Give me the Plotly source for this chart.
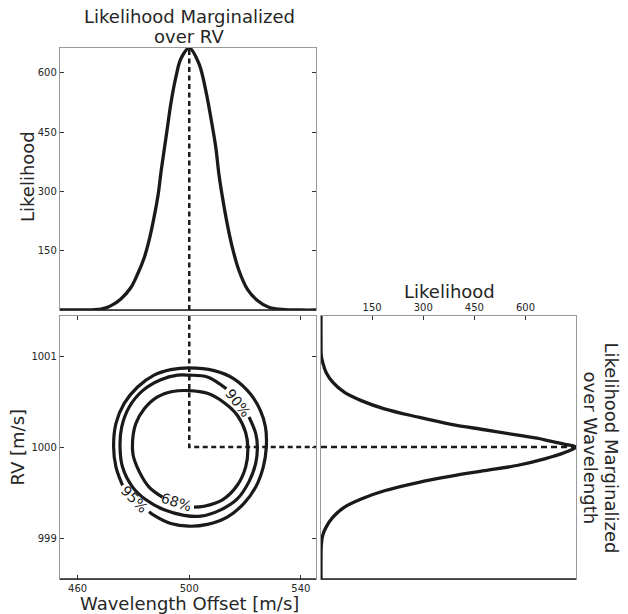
import plotly.graph_objects as go

W, H = 628, 614

# ---------------- data ----------------
# Likelihood marginalized over RV (function of wavelength offset)
wl_offset = [453.7, 460.0, 465.0, 468.4, 472.0, 475.5, 479.1, 481.5, 483.9, 485.6,
             487.4, 488.9, 489.8, 491.0, 492.2, 493.4, 495.2, 497.0, 500.0, 503.5,
             505.9, 507.7, 509.5, 510.6, 511.9, 513.6, 515.4, 517.8, 520.8, 524.4,
             528.5, 534.5, 540.0, 545.4]
lik_wl = [0, 0, 0.5, 2, 11, 28, 57, 91, 133, 176,
          235, 294, 345, 404, 463, 522, 589, 636, 663, 623,
          556, 488, 412, 345, 285, 218, 159, 100, 53, 24,
          7, 1, 0, 0]

# Likelihood marginalized over wavelength (function of RV)
rv = [998.55, 998.75, 998.93, 999.03, 999.12, 999.23, 999.34, 999.43, 999.52, 999.61,
      999.68, 999.74, 999.80, 999.87, 999.94, 1000.00, 1000.03, 1000.08, 1000.13, 1000.19,
      1000.25, 1000.33, 1000.42, 1000.51, 1000.60, 1000.71, 1000.82, 1000.93, 1001.00, 1001.20,
      1001.44]
lik_rv = [0, 0, 1, 5, 15, 35, 69, 118, 186, 284,
          382, 480, 578, 656, 715, 748, 715, 656, 578, 480,
          382, 284, 186, 118, 69, 35, 15, 5, 1, 0,
          0]

# Confidence contours (open arcs, broken where the labels sit)
c95_x = [485.6, 487.4, 493.4, 499.9, 506.5, 513.6, 519.6, 523.8, 526.5, 527.6, 527.3, 525.5,
         522.0, 516.0, 508.9, 499.9, 493.4, 487.4, 481.5, 476.7, 473.75, 472.9, 473.75, 476.1]
c95_y = [999.29, 999.25, 999.16, 999.13, 999.15, 999.23, 999.38, 999.56, 999.78, 1000.00, 1000.22, 1000.40,
         1000.58, 1000.75, 1000.84, 1000.87, 1000.85, 1000.79, 1000.66, 1000.48, 1000.26, 1000.00, 999.78, 999.58]

c90_x = [521.4, 523.8, 524.4, 523.8, 521.4, 517.2, 511.25, 504.1, 498.1, 491.0, 484.5,
         479.7, 476.1, 475.2, 475.8, 478.5, 483.3, 489.8, 495.8, 499.9, 506.5, 513.3]
c90_y = [1000.33, 1000.15, 1000.00, 999.82, 999.62, 999.43, 999.31, 999.24, 999.25, 999.31, 999.42,
         999.56, 999.78, 1000.00, 1000.22, 1000.44, 1000.62, 1000.74, 1000.79, 1000.79, 1000.77, 1000.64]

c68_x = [490.4, 485.6, 482.1, 479.9, 479.7, 480.9, 483.9, 488.6, 494.0, 499.9,
         506.5, 512.4, 517.2, 520.2, 521.0, 520.2, 517.2, 511.9, 505.3, 501.7]
c68_y = [999.45, 999.56, 999.73, 999.91, 1000.07, 1000.26, 1000.42, 1000.55, 1000.61, 1000.62,
         1000.59, 1000.49, 1000.35, 1000.16, 999.98, 999.78, 999.58, 999.42, 999.35, 999.34]

contour_labels = ["68%", "90%", "95%"]
label_x = [495.5, 517.4, 480.3]
label_y = [999.40, 1000.48, 999.43]
label_angle = [18, 52, 46]

lik_ticks = [150, 300, 450, 600]
wl_ticks = [460, 500, 540]
rv_ticks = [999, 1000, 1001]

# ---------------- layout helpers ----------------
def px_x(p):
    return p / W

def px_y(p):
    return 1 - p / H

WL_RANGE = [453.7, 545.4]
RV_RANGE = [998.55, 1001.44]

INK = "#1a1a1a"
GREY = "#999999"
FONT = "DejaVu Sans"

wl_peak = wl_offset[lik_wl.index(max(lik_wl))]
rv_peak = rv[lik_rv.index(max(lik_rv))]

fig = go.Figure()

# top marginal
fig.add_trace(go.Scatter(x=wl_offset, y=lik_wl, mode="lines", line=dict(color=INK, width=3.3, shape="spline"),
                         xaxis="x", yaxis="y", showlegend=False, hoverinfo="skip"))
fig.add_trace(go.Scatter(x=[wl_peak, wl_peak], y=[0, max(lik_wl)], mode="lines",
                         line=dict(color=INK, width=2.5, dash="5px,3.5px"),
                         xaxis="x", yaxis="y", showlegend=False, hoverinfo="skip"))

# contours
for cx, cy in [(c95_x, c95_y), (c90_x, c90_y), (c68_x, c68_y)]:
    fig.add_trace(go.Scatter(x=cx, y=cy, mode="lines", line=dict(color=INK, width=3.2, shape="spline"),
                             xaxis="x2", yaxis="y2", showlegend=False, hoverinfo="skip"))
fig.add_trace(go.Scatter(x=[wl_peak, wl_peak, WL_RANGE[1]], y=[RV_RANGE[1], rv_peak, rv_peak], mode="lines",
                         line=dict(color=INK, width=2.5, dash="5px,3.5px"),
                         xaxis="x2", yaxis="y2", showlegend=False, hoverinfo="skip"))

# right marginal
fig.add_trace(go.Scatter(x=lik_rv, y=rv, mode="lines", line=dict(color=INK, width=3.3, shape="spline"),
                         xaxis="x3", yaxis="y3", showlegend=False, hoverinfo="skip"))
fig.add_trace(go.Scatter(x=[0, max(lik_rv)], y=[rv_peak, rv_peak], mode="lines",
                         line=dict(color=INK, width=2.5, dash="6px,4px"),
                         xaxis="x3", yaxis="y3", showlegend=False, hoverinfo="skip"))

tickfont = dict(family=FONT, size=10, color="#262626")
common = dict(showgrid=False, zeroline=False, showline=True, linecolor=GREY, linewidth=1.3,
              tickcolor="#333333", ticklen=4, tickwidth=1, tickfont=tickfont)

dom_x_left = [px_x(60), px_x(316)]
dom_x_right = [px_x(321), px_x(576)]
dom_y_top = [px_y(310), px_y(48)]
dom_y_bot = [px_y(579), px_y(316)]

fig.update_layout(
    width=W, height=H, margin=dict(l=0, r=0, t=0, b=0),
    paper_bgcolor="white", plot_bgcolor="white",
    font=dict(family=FONT, color="#262626"),
    xaxis=dict(domain=dom_x_left, range=WL_RANGE, anchor="y", mirror=True, ticks="",
               showticklabels=False, **common),
    yaxis=dict(domain=dom_y_top, range=[0, max(lik_wl)], anchor="x", mirror="ticks", ticks="inside",
               tickvals=lik_ticks, **common),
    xaxis2=dict(domain=dom_x_left, range=WL_RANGE, anchor="y2", mirror="ticks", ticks="inside",
                tickvals=wl_ticks, **common),
    yaxis2=dict(domain=dom_y_bot, range=RV_RANGE, anchor="x2", mirror="ticks", ticks="inside",
                tickvals=rv_ticks, **common),
    xaxis3=dict(domain=dom_x_right, range=[0, max(lik_rv)], anchor="y3", side="top", mirror=True,
                ticks="inside", tickvals=lik_ticks, **common),
    yaxis3=dict(domain=dom_y_bot, range=RV_RANGE, anchor="x3", mirror=True, ticks="",
                showticklabels=False, **common),
)

# dark bottom spines
for xr, yr in [("x", "y"), ("x2", "y2"), ("x3", "y3")]:
    fig.add_shape(type="line", xref=f"{xr} domain", yref=f"{yr} domain", x0=0, x1=1, y0=0, y1=0,
                  line=dict(color="#222222", width=1.6), layer="above")

# contour labels
for t, lx, ly, ang in zip(contour_labels, label_x, label_y, label_angle):
    fig.add_annotation(x=lx, y=ly, xref="x2", yref="y2", text=t, showarrow=False, textangle=ang,
                       font=dict(family=FONT, size=14, color=INK))

def ann(text, x, y, size=18, angle=0):
    fig.add_annotation(x=px_x(x), y=px_y(y), xref="paper", yref="paper", text=text, showarrow=False,
                       textangle=angle, xanchor="center", yanchor="middle",
                       font=dict(family=FONT, size=size, color="#262626"))

ann("Likelihood Marginalized", 189, 16.5)
ann("over RV", 189, 36.5)
ann("Likelihood", 27, 177, angle=-90)
ann("RV [m/s]", 16.5, 447, angle=-90)
ann("Wavelength Offset [m/s]", 189, 603)
ann("Likelihood", 449, 291)
ann("Likelihood Marginalized", 611.5, 448, angle=90)
ann("over Wavelength", 590.5, 448, angle=90)

fig.write_html("out.html", config={"displayModeBar": False},
               post_script="document.body.style.margin='0';document.body.style.padding='0';")
